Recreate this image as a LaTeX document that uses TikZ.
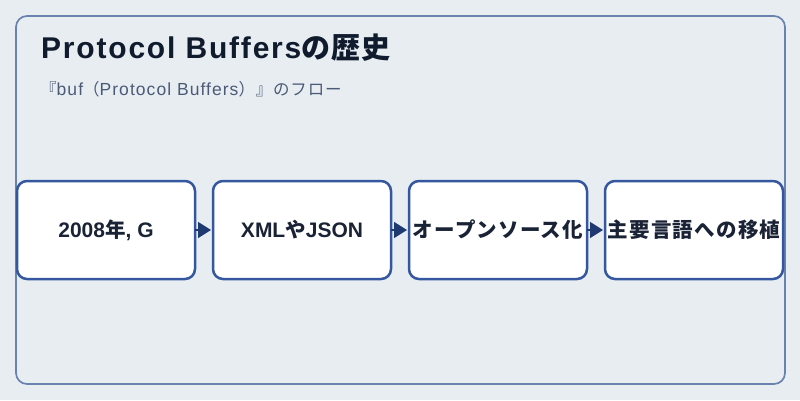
\documentclass[tikz,border=0pt]{standalone}
\usepackage{fontspec}
\setmainfont{Liberation Sans}
\newfontfamily\cjk{Noto Sans CJK JP}
\newfontfamily\titlelatin[LetterSpace=6]{Liberation Sans}
\newfontfamily\titlecjk[LetterSpace=3]{Noto Sans CJK JP}
\newfontfamily\sublatin[LetterSpace=6]{Liberation Sans}
\newfontfamily\subcjk[LetterSpace=5]{Noto Sans CJK JP}
\newfontfamily\stagecjk[LetterSpace=6]{Noto Sans CJK JP}
\usetikzlibrary{positioning,arrows.meta}

\definecolor{pagebg}{HTML}{E8EDF2}
\definecolor{framecol}{HTML}{6A83AE}
\definecolor{boxcol}{HTML}{3457A0}
\definecolor{arrowcol}{HTML}{1E3A70}
\definecolor{textcol}{HTML}{1A2336}
\definecolor{titlecol}{HTML}{111B2E}
\definecolor{subcol}{HTML}{4B5B77}

\tikzstyle{stage} = [rectangle, rounded corners=10pt, minimum width=178pt, minimum height=98pt, inner sep=0pt, outer sep=0pt, text centered, draw=boxcol, line width=2.5pt, fill=white, text=textcol, font=\bfseries\fontsize{21}{25}\selectfont]
\tikzstyle{arrow} = [line width=1.5pt, draw=arrowcol, -{Triangle[length=13pt,width=16pt]}, shorten >=2pt]

\begin{document}
\begin{tikzpicture}[x=1pt, y=-1pt, node distance=196pt]
			\fill [pagebg] (0,0) rectangle (800,400);
			\useasboundingbox (0,0) rectangle (800,400);
			\draw [framecol, line width=1.7pt, rounded corners=11pt] (16,16) rectangle (785,384);

			\node (title) [anchor=base west, inner sep=0pt, text=titlecol, font=\bfseries\fontsize{30}{34}\selectfont] at (41,58) {{\titlelatin Protocol Buffers}{\titlecjk\fontsize{29}{34}\selectfont の歴史}};
			\node (subtitle) [anchor=base west, inner sep=0pt, text=subcol, font=\fontsize{17.5}{20}\selectfont] at (40,95) {{\subcjk\fontsize{16.5}{20}\selectfont 『}{\sublatin buf}{\subcjk\fontsize{16.5}{20}\selectfont （}{\sublatin Protocol Buffers}{\subcjk\fontsize{16.5}{20}\selectfont ）』のフロー}};

			\node (1) [stage] at (106,230) {2008{\stagecjk\fontsize{20.5}{25}\selectfont 年}, G};
			\node (2) [stage, right of=1] {XML{\stagecjk\fontsize{20.5}{25}\selectfont や}JSON};
			\node (3) [stage, right of=2] {\stagecjk\fontsize{20.5}{25}\selectfont オープンソース化};
			\node (4) [stage, right of=3] {\stagecjk\fontsize{20.5}{25}\selectfont 主要言語への移植};

			\draw [arrow] (1) -- (2);
			\draw [arrow] (2) -- (3);
			\draw [arrow] (3) -- (4);
		\end{tikzpicture}
\end{document}
